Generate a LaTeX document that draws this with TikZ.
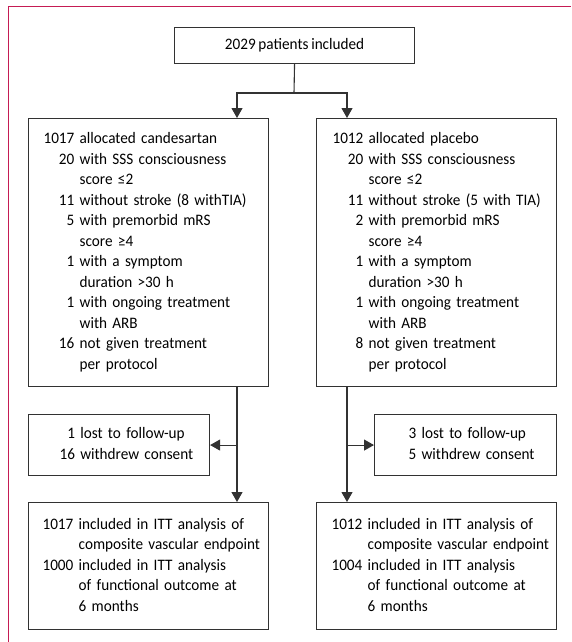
\documentclass[tikz,border=0pt]{standalone}
\usepackage{fontspec}
\setmainfont[WordSpace=0.8, FakeStretch=0.95]{Carlito}
\usetikzlibrary{arrows.meta}
\definecolor{lancetred}{RGB}{197,27,84}
\definecolor{boxline}{RGB}{50,50,50}

\begin{document}
\begin{tikzpicture}[x=1pt, y=-1pt,
    box/.style={draw=boxline, line width=1.1pt, anchor=north west, inner ysep=0pt,
      align=left, font=\fontsize{16}{20.5}\selectfont},
    conn/.style={draw=boxline, line width=1.1pt},
    arr/.style={conn, -{Triangle[width=11pt,length=10pt]}}]
  \useasboundingbox (0,0) rectangle (571,642);
  % page frame
  \draw[lancetred, line width=1pt] (8,642) -- (8,7) -- (571,7);

  % boxes
  \node[box, inner xsep=0pt, minimum width=240pt, minimum height=36pt, align=center] (total) at (174,27) {2029 patients included};

  \node[box, inner xsep=15pt, text width=210pt, minimum height=268pt] (cand) at (28,118) {%
    \begin{tabular}{@{}r@{\ }l@{}}
      1017 & allocated candesartan\\
      20 & with SSS consciousness\\
         & score ≤2\\
      11 & without stroke (8 withTIA)\\
      5 & with premorbid mRS\\
        & score ≥4\\
      1 & with a symptom\\
        & duration >30 h\\
      1 & with ongoing treatment\\
        & with ARB\\
      16 & not given treatment\\
         & per protocol
    \end{tabular}};
  \node[box, inner xsep=16pt, text width=208pt, minimum height=268pt] (plac) at (316,118) {%
    \begin{tabular}{@{}r@{\ }l@{}}
      1012 & allocated placebo\\
      20 & with SSS consciousness\\
         & score ≤2\\
      11 & without stroke (5 with TIA)\\
      2 & with premorbid mRS\\
        & score ≥4\\
      1 & with a symptom\\
        & duration >30 h\\
      1 & with ongoing treatment\\
        & with ARB\\
      8 & not given treatment\\
        & per protocol
    \end{tabular}};

  \node[box, inner xsep=31pt, text width=119pt, minimum height=61pt] (candlost) at (28,414) {%
    \begin{tabular}{@{}r@{\ }l@{}}
      1 & lost to follow-up\\
      16 & withdrew consent
    \end{tabular}};
  \node[box, inner xsep=34pt, text width=114pt, minimum height=61pt] (placlost) at (374,414) {%
    \begin{tabular}{@{}r@{\ }l@{}}
      3 & lost to follow-up\\
      5 & withdrew consent
    \end{tabular}};

  \node[box, inner xsep=14pt, text width=212pt, minimum height=127pt] (candend) at (28,502) {%
    \begin{tabular}{@{}r@{\ }l@{}}
      1017 & included in ITT analysis of\\
           & composite vascular endpoint\\
      1000 & included in ITT analysis\\
           & of functional outcome at\\
           & 6 months
    \end{tabular}};
  \node[box, inner xsep=15pt, text width=210pt, minimum height=127pt] (placend) at (316,502) {%
    \begin{tabular}{@{}r@{\ }l@{}}
      1012 & included in ITT analysis of\\
           & composite vascular endpoint\\
      1004 & included in ITT analysis\\
           & of functional outcome at\\
           & 6 months
    \end{tabular}};

  % connectors
  \coordinate (split) at (294,93);
  \coordinate (lcol) at (237,0);
  \coordinate (rcol) at (347,0);
  \draw[conn] (total.south) -- (split);
  \draw[arr] (split) -| (cand.north -| lcol);
  \draw[arr] (split) -| (plac.north -| rcol);
  \draw[arr] (cand.south -| lcol) -- (candend.north -| lcol);
  \draw[arr] (plac.south -| rcol) -- (placend.north -| rcol);
  \draw[arr] (lcol |- candlost.east) -- (candlost.east);
  \draw[arr] (rcol |- placlost.west) -- (placlost.west);
\end{tikzpicture}
\end{document}
